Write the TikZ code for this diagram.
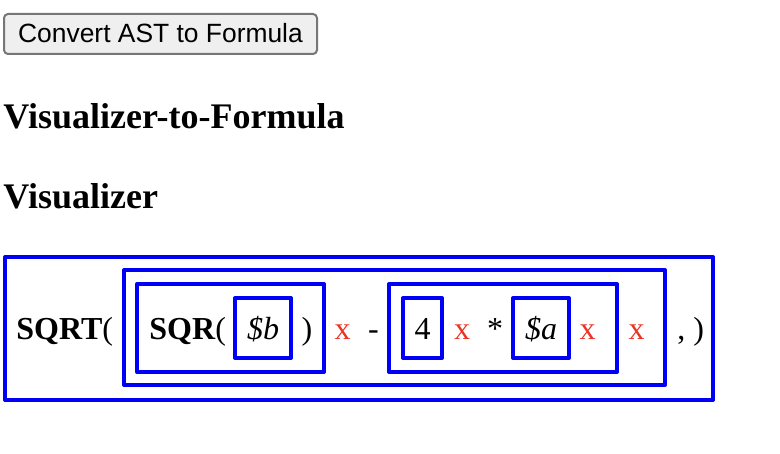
\documentclass[tikz,border=0pt]{standalone}
\usepackage{fontspec}
\setmainfont{Liberation Serif}
\newfontfamily\buttonfont{Liberation Sans}
\definecolor{vblue}{RGB}{0,0,245}
\definecolor{xred}{RGB}{234,51,35}
\definecolor{btngray}{RGB}{239,239,239}
\definecolor{btnedge}{RGB}{118,118,118}
\begin{document}
\begin{tikzpicture}[x=0.5pt,y=-0.5pt,line join=round,
  vbox/.style={draw=vblue,line width=2pt},
  lbl/.style={inner sep=0pt,anchor=base,font=\fontsize{16}{19}\selectfont},
  fn/.style={lbl,anchor=base west},
  var/.style={lbl,font=\fontsize{16}{19}\selectfont\itshape},
  del/.style={lbl,text=xred},
  head/.style={inner sep=0pt,anchor=base west,font=\fontsize{18}{22}\selectfont\bfseries}]
\useasboundingbox (0,0) rectangle (780,454);
% button and headings
\draw[fill=btngray,draw=btnedge,line width=1pt,rounded corners=2pt] (4,14) rectangle (317,54);
\node[inner sep=0pt,anchor=base,font=\buttonfont\fontsize{13.2}{16}\selectfont] (btn) at (160.5,43) {Convert AST to Formula};
\node[head] (title) at (3,129) {Visualizer-to-Formula};
\node[head] (sub) at (3,208) {Visualizer};
% boxes
\draw[vbox] (5,257) rectangle (713,400);
\draw[vbox] (124,270) rectangle (665,385);
\draw[vbox] (137,284) rectangle (324,372);
\draw[vbox] (235,298) rectangle (291,358);
\draw[vbox] (389,284) rectangle (617,372);
\draw[vbox] (403,298) rectangle (442,358);
\draw[vbox] (513,298) rectangle (569,358);
% formula row
\node[fn] (sqrt) at (16,339) {\textbf{SQRT}(};
\node[fn] (sqr) at (149,339) {\textbf{SQR}(};
\node[var] (b) at (263,339) {\$b};
\node[lbl] (close) at (307,339) {)};
\node[del] (delb) at (342.5,339) {x};
\node[lbl] (minus) at (373.5,339) {-};
\node[lbl] (four) at (422.5,339) {4};
\node[del] (delfour) at (462,339) {x};
\node[lbl] (times) at (495,339) {*};
\node[var] (a) at (541,339) {\$a};
\node[del] (dela) at (587.5,339) {x};
\node[del] (delprod) at (636.5,339) {x};
\node[lbl,anchor=base west] (tail) at (677,339) {, )};
\end{tikzpicture}
\end{document}
